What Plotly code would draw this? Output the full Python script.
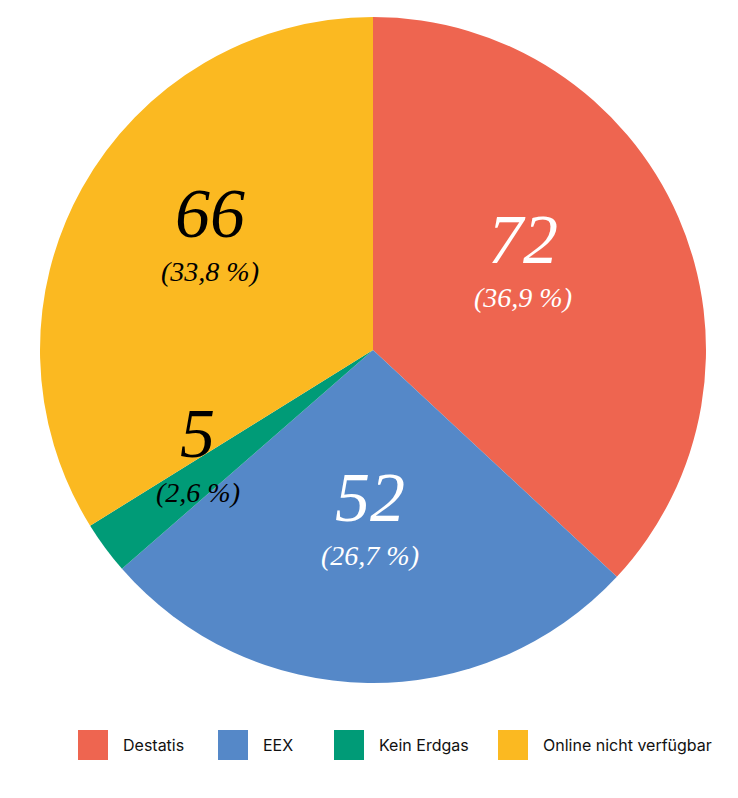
import math
import plotly.graph_objects as go

labels = ["Destatis", "EEX", "Kein Erdgas", "Online nicht verfügbar"]
values = [72, 52, 5, 66]
colors = ["#EE6550", "#5588C8", "#009B77", "#FBB921"]
text_colors = ["white", "white", "black", "black"]
label_radius = [0.49, 0.58, 0.655, 0.56]   # radial position of each slice label (fraction of radius)

total = sum(values)
pct = [f"({v / total * 100:.1f} %)".replace(".", ",") for v in values]

# page has an 8px body margin, so the figure is drawn 8px in from the window edge
OFF = 8
W, H = 730, 790
cx, cy, R = 373 - OFF, 350 - OFF, 333

NUM_SIZE, PCT_SIZE = 70, 28
SERIF = "Liberation Serif"

fig = go.Figure()
fig.add_trace(go.Pie(
    labels=labels,
    values=values,
    sort=False,
    direction="clockwise",
    rotation=0,
    marker=dict(colors=colors, line=dict(width=0)),
    textinfo="none",
    hoverinfo="label+value+percent",
    showlegend=False,
    domain=dict(x=[(cx - R) / W, (cx + R) / W], y=[1 - (cy + R) / H, 1 - (cy - R) / H]),
))

# slice labels, placed along each slice's mid-angle
cum = 0
for v, p, tc, rf in zip(values, pct, text_colors, label_radius):
    mid = (cum + v / 2) / total * 2 * math.pi
    cum += v
    ax = cx + rf * R * math.sin(mid)
    ay = cy - rf * R * math.cos(mid)
    num_base = ay - 22
    pct_base = ay + 22
    fig.add_annotation(xref="paper", yref="paper", x=ax / W,
                       y=1 - (num_base - 0.3375 * NUM_SIZE) / H,
                       text=str(v), showarrow=False, xanchor="center", yanchor="middle",
                       font=dict(family=SERIF, size=NUM_SIZE, color=tc, style="italic"))
    fig.add_annotation(xref="paper", yref="paper", x=ax / W,
                       y=1 - (pct_base - 0.3375 * PCT_SIZE) / H,
                       text=p, showarrow=False, xanchor="center", yanchor="middle",
                       font=dict(family=SERIF, size=PCT_SIZE, color=tc, style="italic"))

fig.update_layout(
    width=W, height=H,
    margin=dict(l=0, r=0, t=0, b=0),
    paper_bgcolor="white",
    plot_bgcolor="white",
)

# legend with large square swatches
leg_x = [78, 218, 334, 498]
for lx, lab, col in zip(leg_x, labels, colors):
    x0 = lx - OFF
    fig.add_shape(type="rect", xref="paper", yref="paper",
                  x0=x0 / W, x1=(x0 + 30) / W, y0=1 - (760 - OFF) / H, y1=1 - (730 - OFF) / H,
                  fillcolor=col, line=dict(width=0))
    fig.add_annotation(xref="paper", yref="paper", x=(x0 + 43) / W, y=1 - (745 - OFF) / H,
                       text=lab, showarrow=False, xanchor="left", yanchor="middle",
                       font=dict(family="Inter", size=16, color="#111111"))

fig.write_html("out.html")
